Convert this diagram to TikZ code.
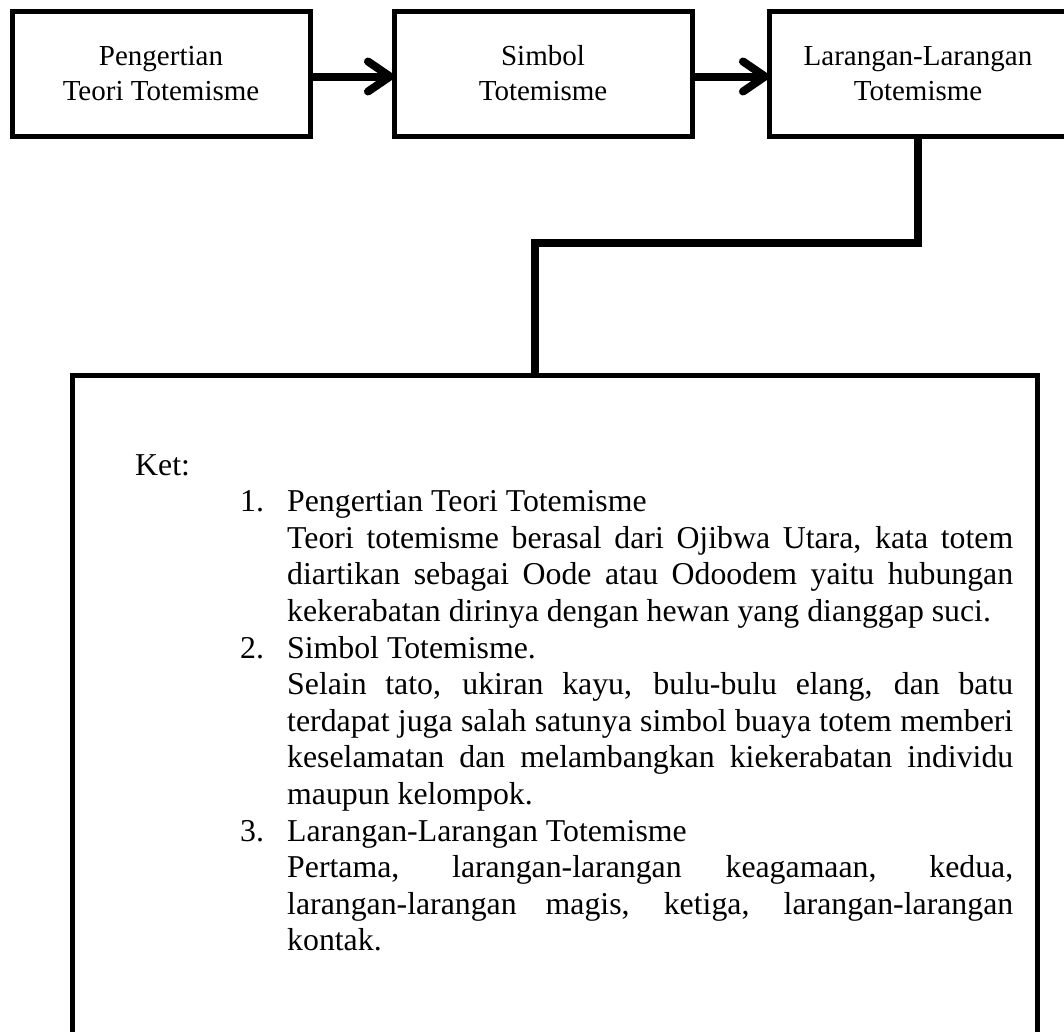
\documentclass[tikz,border=0pt]{standalone}
\usepackage{fontspec}
\setmainfont{Liberation Serif}
\usetikzlibrary{arrows.meta}

\begin{document}
\begin{tikzpicture}[x=1pt,y=-1pt,
    box/.style={draw, line width=5pt, outer sep=0pt, inner sep=0pt,
        minimum width=298pt, minimum height=125pt, align=center,
        font=\fontsize{29}{35}\selectfont},
    flow/.style={line width=8pt, -{Straight Barb[length=22pt,width=30pt,round]}},
    link/.style={line width=7.5pt}]
    \useasboundingbox (0,0) rectangle (1064,1031);

    % Top row
    \node[box] (teori) at (161,73.5) {Pengertian\\Teori Totemisme};
    \node[box] (simbol) at (543,73.5) {Simbol\\Totemisme};
    \node[box] (larangan) at (918,73.5) {Larangan-Larangan\\Totemisme};

    % Arrows
    \draw[flow] ([yshift=-3pt]teori.east) -- ([yshift=-3pt]simbol.west);
    \draw[flow] ([yshift=-3pt]simbol.east) -- ([yshift=-3pt]larangan.west);

    % Keterangan box
    \node[draw, line width=5pt, outer sep=0pt, minimum width=965pt,
        minimum height=700pt, anchor=north west] (ket) at (72,375) {};
    \coordinate (bend) at (535,243);
    \draw[link] (larangan.south) |- (bend) -- (bend |- ket.north);

    % Text
    \node[anchor=base west, inner sep=0pt, font=\fontsize{31.8}{36.6}\selectfont]
        (teks) at (135,475) {\begin{minipage}[t]{878pt}
        \hyphenpenalty=10000 \exhyphenpenalty=10000 \tolerance=9999
        Ket:\par
        \leftskip=152pt
        \noindent\llap{\makebox[47pt][l]{1.}}Pengertian Teori Totemisme\newline
        Teori totemisme berasal dari Ojibwa Utara, kata totem\linebreak
        diartikan sebagai Oode atau Odoodem yaitu hubungan\linebreak
        kekerabatan dirinya dengan hewan yang dianggap suci.\par
        \noindent\llap{\makebox[47pt][l]{2.}}Simbol Totemisme.\newline
        Selain tato, ukiran kayu, bulu-bulu elang, dan batu\linebreak
        terdapat juga salah satunya simbol buaya totem memberi\linebreak
        keselamatan dan melambangkan kiekerabatan individu\linebreak
        maupun kelompok.\par
        \noindent\llap{\makebox[47pt][l]{3.}}Larangan-Larangan Totemisme\newline
        Pertama, larangan-larangan keagamaan, kedua,\linebreak
        larangan-larangan magis, ketiga, larangan-larangan\linebreak
        kontak.\par
        \end{minipage}};

\end{tikzpicture}
\end{document}
